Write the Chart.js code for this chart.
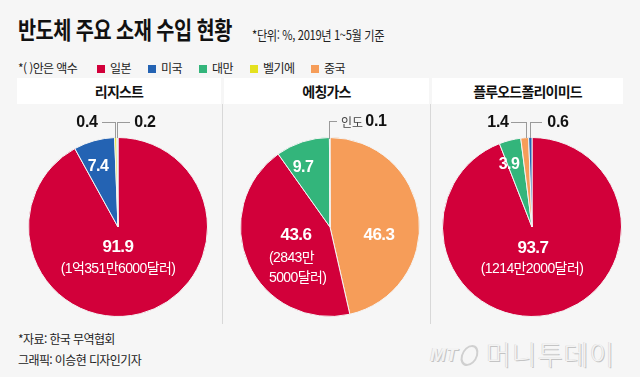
<!DOCTYPE html>
<html lang="ko">
<head>
<meta charset="utf-8">
<script src="https://cdn.jsdelivr.net/npm/chart.js@4/dist/chart.umd.min.js"></script>
<style>
  html, body { margin: 0; padding: 0; }
  body { width: 640px; height: 377px; background: #f6f6f6; position: relative; overflow: hidden;
         font-family: "Liberation Sans", "Noto Sans CJK KR", sans-serif; color: #111; }
  .abs { position: absolute; white-space: nowrap; }
  .c { transform: translate(-50%, -50%); }
  .title { left: 18px; top: 13px; font-family: "Noto Sans CJK KR"; font-weight: 700; font-size: 24px; letter-spacing: -0.6px; line-height: 32px; transform: scaleX(0.82); transform-origin: left center; }
  .unit { left: 252px; top: 27px; font-family: "Noto Sans CJK KR"; font-size: 13px; letter-spacing: -0.4px; line-height: 16px; color: #222; transform: scaleX(0.86); transform-origin: left center; }
  .legend { left: 18px; top: 60px; font-family: "Noto Sans CJK KR"; font-size: 12px; letter-spacing: -0.6px; line-height: 16px; color: #222; }
  .legend span.sw { display: inline-block; width: 8px; height: 8px; vertical-align: 0px; margin-right: 5px; }
  .legend span.it { position: absolute; top: 0; }
  .head { top: 78px; height: 26px; background: #fff; font-family: "Noto Sans CJK KR"; font-weight: 700; font-size: 14px; letter-spacing: -0.8px; line-height: 26px; text-align: center; }
  .sep { top: 104px; width: 1px; height: 220px; background: #d8d8d8; }
  .pie { top: 137px; width: 180px; height: 180px; }
  .lbl { font-weight: 700; font-size: 16px; color: #fff; letter-spacing: -0.5px; }
  .big { font-size: 17px; }
  .amt { font-weight: 400; font-size: 14px; color: #fff; letter-spacing: -0.6px; line-height: 20px; }
  .out { font-weight: 700; font-size: 16px; color: #111; letter-spacing: -0.3px; }
  .hl { height: 1px; background: #9a9a9a; }
  .vl { width: 1px; background: #9a9a9a; }
  .foot { left: 18px; font-family: "Noto Sans CJK KR"; font-size: 12px; letter-spacing: -0.6px; color: #222; }
  .wm { left: 430px; top: 340px; color: #f3f3f3; text-shadow: 1px 1px 0 #c4c4c4, -0.5px -0.5px 0 #d4d4d4; }
  .ring { left: 461px; top: 345px; width: 13px; height: 17px; border: 2px solid #d0d0d0; border-radius: 50%; transform: skewX(-15deg); }
</style>
</head>
<body>
<div class="abs title">반도체 주요 소재 수입 현황</div>
<div class="abs unit">*단위: %, 2019년 1~5월 기준</div>
<div class="abs legend" id="legend" style="width:400px;height:16px;"></div>

<div class="abs head" style="left:17px;width:204px;" id="h0"></div>
<div class="abs head" style="left:224px;width:205px;" id="h1"></div>
<div class="abs head" style="left:432px;width:191px;" id="h2"></div>
<div class="abs sep" style="left:222px;"></div>
<div class="abs sep" style="left:430px;"></div>

<div class="abs pie" style="left:28px;"><canvas id="pie0"></canvas></div>
<div class="abs pie" style="left:240px;"><canvas id="pie1"></canvas></div>
<div class="abs pie" style="left:442px;"><canvas id="pie2"></canvas></div>

<div id="labels"></div>

<div class="abs foot" style="top:330px;">*자료: 한국 무역협회</div>
<div class="abs foot" style="top:351px;">그래픽: 이승현 디자인기자</div>
<div class="abs wm" style="font-family:'Liberation Sans';font-style:italic;font-weight:700;font-size:19px;top:344px;">MT</div>
<div class="abs ring"></div>
<div class="abs wm" style="left:486px;font-family:'Noto Sans CJK KR';font-weight:300;font-size:27px;letter-spacing:1px;top:334px;">머니투데이</div>

<script>
/* ---------- data ---------- */
const TITLES = ['리지스트', '에칭가스', '플루오드폴리이미드'];
const LEGEND_NOTE = '*( )안은 액수';
const LEGEND_LABELS = ['일본', '미국', '대만', '벨기에', '중국'];

const RESIST_LABELS = ['일본', '미국', '벨기에', '기타'];
const RESIST_VALUES = [91.9, 7.4, 0.4, 0.2];
const RESIST_AMOUNT = '(1억351만6000달러)';

const ETCH_LABELS = ['중국', '일본', '대만', '인도'];
const ETCH_VALUES = [46.3, 43.6, 9.7, 0.1];
const ETCH_AMOUNT = ['(2843만', '5000달러)'];

const FPI_LABELS = ['일본', '대만', '중국', '미국'];
const FPI_VALUES = [93.7, 3.9, 1.4, 0.6];
const FPI_AMOUNT = '(1214만2000달러)';

const COLORS = { '일본': '#d2003a', '미국': '#2463b3', '대만': '#33b57b', '벨기에': '#e4e11f', '중국': '#f69d59', '인도': '#dcdcdc', '기타': '#dcdcdc' };

/* ---------- legend + headers ---------- */
const legend = document.getElementById('legend');
legend.innerHTML = `<span class="it" style="left:0">${LEGEND_NOTE}</span>`;
const LEG_X = [79, 130, 181, 232, 293];
LEGEND_LABELS.forEach((name, i) => {
  legend.innerHTML += `<span class="it" style="left:${LEG_X[i]}px"><span class="sw" style="background:${COLORS[name]}"></span>${name}</span>`;
});
TITLES.forEach((t, i) => { document.getElementById('h' + i).textContent = t; });

/* ---------- pies ---------- */
function makePie(id, labels, values) {
  return new Chart(document.getElementById(id), {
    type: 'pie',
    data: { labels, datasets: [{ data: values, backgroundColor: labels.map((l) => COLORS[l]), borderColor: '#f4f4f4', borderWidth: 1 }] },
    options: {
      responsive: true, maintainAspectRatio: false, animation: false,
      layout: { padding: 0 },
      plugins: { legend: { display: false }, tooltip: { enabled: false } },
    },
  });
}
makePie('pie0', RESIST_LABELS, RESIST_VALUES);
makePie('pie1', ETCH_LABELS, ETCH_VALUES);
makePie('pie2', FPI_LABELS, FPI_VALUES);

/* ---------- value labels ---------- */
const f = (v) => v.toFixed(1);
const wrap = document.getElementById('labels');
function txt(cls, x, y, s, extra) {
  wrap.innerHTML += `<div class="abs c ${cls}" style="left:${x}px;top:${y}px;${extra || ''}">${s}</div>`;
}
function hline(x1, x2, y) { wrap.innerHTML += `<div class="abs hl" style="left:${x1}px;top:${y}px;width:${x2 - x1}px"></div>`; }
function vline(x, y1, y2) { wrap.innerHTML += `<div class="abs vl" style="left:${x}px;top:${y1}px;height:${y2 - y1}px"></div>`; }

// 리지스트
txt('lbl big', 118, 247, f(RESIST_VALUES[0]));
txt('amt', 118, 268, RESIST_AMOUNT);
txt('lbl', 98, 166, f(RESIST_VALUES[1]));
txt('out', 87, 122, f(RESIST_VALUES[2]));
txt('out', 145, 122, f(RESIST_VALUES[3]));
hline(102, 116, 122); vline(115, 122, 138);
hline(117, 130, 122); vline(117, 122, 138);

// 에칭가스
txt('lbl big', 379, 235, f(ETCH_VALUES[0]));
txt('lbl big', 296, 235, f(ETCH_VALUES[1]));
wrap.innerHTML += `<div class="abs amt" style="left:269px;top:247px;">${ETCH_AMOUNT[0]}<br>${ETCH_AMOUNT[1]}</div>`;
txt('lbl', 303, 167, f(ETCH_VALUES[2]));
txt('', 352, 121, ETCH_LABELS[3], 'font-family:Noto Sans CJK KR;font-size:12px;color:#444;');
txt('out', 376, 121, f(ETCH_VALUES[3]));
hline(329, 337, 121); vline(329, 121, 139);

// 플루오드폴리이미드
txt('lbl big', 533, 248, f(FPI_VALUES[0]));
txt('amt', 532, 268, FPI_AMOUNT);
txt('lbl', 509, 164, f(FPI_VALUES[1]));
txt('out', 498, 122, f(FPI_VALUES[2]));
txt('out', 558, 122, f(FPI_VALUES[3]));
hline(511, 527, 122); vline(526, 122, 138);
hline(530, 542, 122); vline(530, 122, 138);
</script>
</body>
</html>
